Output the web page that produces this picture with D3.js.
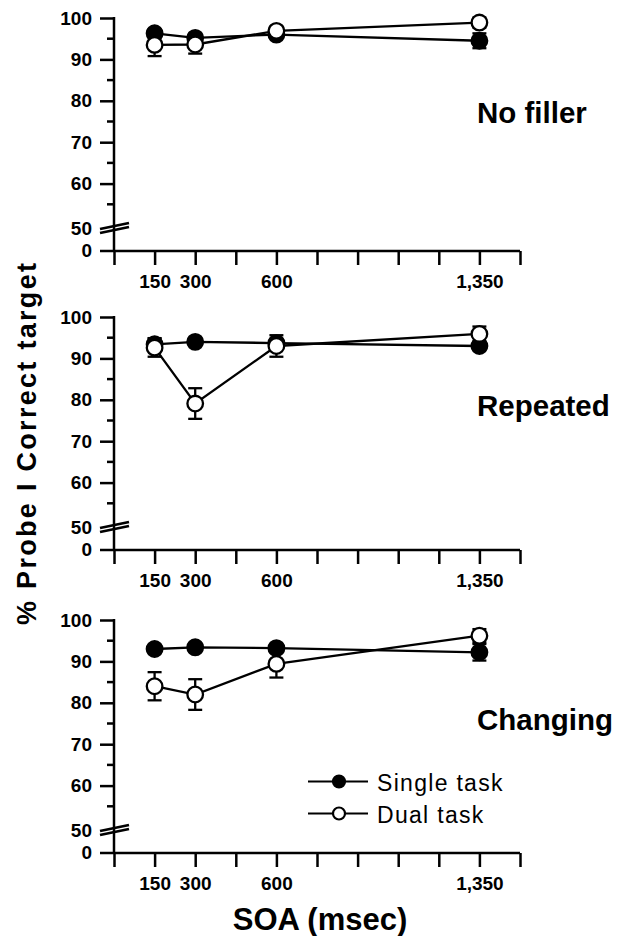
<!DOCTYPE html>
<html>
<head>
<meta charset="utf-8">
<script src="https://cdn.jsdelivr.net/npm/d3@7"></script>
<style type="text/css">
  body{
    background: white;
    margin: 0px;
  }
  svg text{
    font-family: 'Liberation Sans', Arial, Helvetica, sans-serif;
    fill: black;
  }
</style>
</head>
<body>

<div id="chart"></div>

<script>

// SOA values (msec) and x axis
var soa = [150, 300, 600, 1350];
var xTicks = [0, 150, 300, 450, 600, 750, 900, 1050, 1200, 1350, 1500];
var xLabels = [150, 300, 600, 1350];

// y axis
var yTicks = [50, 60, 70, 80, 90, 100];
var yMinor = [55, 65, 75, 85, 95];

var panelNames = ["No filler", "Repeated", "Changing"];
var seriesNames = ["Single task", "Dual task"];

// % correct, one row per panel
var singleMeans = [
  [96.3, 95.2, 96.0, 94.5],
  [93.4, 94.0, 93.7, 93.0],
  [93.0, 93.4, 93.2, 92.2]
];
var singleErr = [
  [1.0, 1.0, 0.8, 1.8],
  [1.5, 0.8, 1.0, 1.0],
  [1.0, 1.0, 1.0, 2.0]
];
var dualMeans = [
  [93.5, 93.6, 96.9, 98.9],
  [92.6, 79.1, 93.0, 95.9],
  [84.0, 82.0, 89.4, 96.2]
];
var dualErr = [
  [2.7, 2.2, 1.0, 1.2],
  [2.2, 3.7, 2.6, 1.8],
  [3.4, 3.7, 3.3, 1.6]
];

var width = 628, height = 936;
var panelTops = [18, 317, 620];
var labelDy = [105, 99, 110];
var plotH = 207;      // 50 -> 100
var zeroGap = 26;     // 50 -> 0 line
var axisX = 114;
var sw = 2.5;

var svg = d3.select("#chart").append("svg")
  .attr("width", width)
  .attr("height", height);

var x = d3.scaleLinear().domain([0, 1500]).range([axisX, 520]);
var fmt = d3.format(",");

function drawPanel(p) {

  var g = svg.append("g").attr("transform", "translate(0," + panelTops[p] + ")");
  var y = d3.scaleLinear().domain([50, 100]).range([plotH, 0]);
  var zeroY = plotH + zeroGap;

  // y axis line
  g.append("line")
    .attr("x1", axisX).attr("x2", axisX)
    .attr("y1", -1).attr("y2", zeroY)
    .attr("stroke", "black").attr("stroke-width", sw);

  // major y ticks
  var yAxis = d3.axisLeft(y)
    .tickValues(yTicks.filter(function(d) { return d > 50; }))
    .tickSize(14)
    .tickPadding(8)
    .tickFormat(d3.format("d"));

  var ya = g.append("g").attr("transform", "translate(" + axisX + ",0)").call(yAxis);
  ya.select(".domain").remove();
  ya.selectAll("line").attr("stroke", "black").attr("stroke-width", sw);
  ya.selectAll("text")
    .style("font-size", "19px").style("font-weight", "bold");

  // minor ticks
  g.selectAll(".minor").data(yMinor).enter().append("line")
    .attr("x1", axisX - 7).attr("x2", axisX)
    .attr("y1", function(d) { return y(d); })
    .attr("y2", function(d) { return y(d); })
    .attr("stroke", "black").attr("stroke-width", sw);

  // 50 label and axis break
  g.append("text")
    .attr("x", axisX - 22).attr("y", y(50) + 4).attr("dy", "0.32em")
    .attr("text-anchor", "end")
    .style("font-size", "19px").style("font-weight", "bold")
    .text(yTicks[0]);

  [0, 4].forEach(function(off) {
    g.append("line")
      .attr("x1", 100).attr("y1", y(50) + 4 + off)
      .attr("x2", 129).attr("y2", y(50) - 2 + off)
      .attr("stroke", "black").attr("stroke-width", 2.8);
  });

  // 0 label
  g.append("text")
    .attr("x", axisX - 22).attr("y", zeroY).attr("dy", "0.32em")
    .attr("text-anchor", "end")
    .style("font-size", "19px").style("font-weight", "bold")
    .text("0");

  // x axis
  g.append("line")
    .attr("x1", 100).attr("x2", x(1500))
    .attr("y1", zeroY).attr("y2", zeroY)
    .attr("stroke", "black").attr("stroke-width", sw);

  var xAxis = d3.axisBottom(x)
    .tickValues(xTicks)
    .tickSize(14)
    .tickFormat(function(d) { return xLabels.indexOf(d) >= 0 ? fmt(d) : ""; });

  var xa = g.append("g").attr("transform", "translate(0," + zeroY + ")").call(xAxis);
  xa.select(".domain").remove();
  xa.selectAll("line").attr("stroke", "black").attr("stroke-width", sw);
  xa.selectAll("text")
    .attr("y", 24)
    .style("font-size", "19px").style("font-weight", "bold");

  // series
  var series = [
    { means: singleMeans[p], err: singleErr[p], fill: "black" },
    { means: dualMeans[p], err: dualErr[p], fill: "white" }
  ];

  var line = d3.line()
    .x(function(d) { return x(d[0]); })
    .y(function(d) { return y(d[1]); });

  series.forEach(function(s) {
    var pts = soa.map(function(v, i) { return [v, s.means[i], s.err[i]]; });
    g.append("path")
      .datum(pts)
      .attr("d", line)
      .attr("fill", "none")
      .attr("stroke", "black")
      .attr("stroke-width", 2.3);
  });

  series.forEach(function(s) {
    var pts = soa.map(function(v, i) { return [v, s.means[i], s.err[i]]; });
    var eb = g.append("g");
    pts.forEach(function(d) {
      var cx = x(d[0]);
      eb.append("line")
        .attr("x1", cx).attr("x2", cx)
        .attr("y1", y(d[1] - d[2])).attr("y2", y(d[1] + d[2]))
        .attr("stroke", "black").attr("stroke-width", 2.3);
      [d[1] - d[2], d[1] + d[2]].forEach(function(v) {
        eb.append("line")
          .attr("x1", cx - 7).attr("x2", cx + 7)
          .attr("y1", y(v)).attr("y2", y(v))
          .attr("stroke", "black").attr("stroke-width", 2.3);
      });
    });
    g.selectAll(null).data(pts).enter().append("circle")
      .attr("cx", function(d) { return x(d[0]); })
      .attr("cy", function(d) { return y(d[1]); })
      .attr("r", 7.8)
      .attr("fill", s.fill)
      .attr("stroke", "black")
      .attr("stroke-width", 2.3);
  });

  // panel label
  g.append("text")
    .attr("x", 477).attr("y", labelDy[p])
    .style("font-size", "29.5px").style("font-weight", "bold")
    .text(panelNames[p]);

  return g;
}

var panelGroups = panelNames.map(function(d, i) { return drawPanel(i); });

// legend in bottom panel
var legend = svg.append("g");
seriesNames.forEach(function(name, i) {
  var ly = 781.5 + i * 32;
  legend.append("line")
    .attr("x1", 308).attr("x2", 368)
    .attr("y1", ly).attr("y2", ly)
    .attr("stroke", "black").attr("stroke-width", 2.2);
  legend.append("circle")
    .attr("cx", 339).attr("cy", ly).attr("r", 6)
    .attr("fill", i === 0 ? "black" : "white")
    .attr("stroke", "black").attr("stroke-width", 2.2);
  legend.append("text")
    .attr("x", 377).attr("y", ly + 9)
    .style("font-size", "23px")
    .style("letter-spacing", "1.3px")
    .text(name);
});

// axis titles
svg.append("text")
  .attr("transform", "translate(36,444) rotate(-90)")
  .attr("text-anchor", "middle")
  .attr("textLength", 362)
  .attr("lengthAdjust", "spacing")
  .style("font-size", "27px").style("font-weight", "bold")
  .text("% Probe I Correct target");

svg.append("text")
  .attr("x", 320).attr("y", 930)
  .attr("text-anchor", "middle")
  .style("font-size", "31px").style("font-weight", "bold")
  .text("SOA (msec)");

</script>

</body>
</html>
